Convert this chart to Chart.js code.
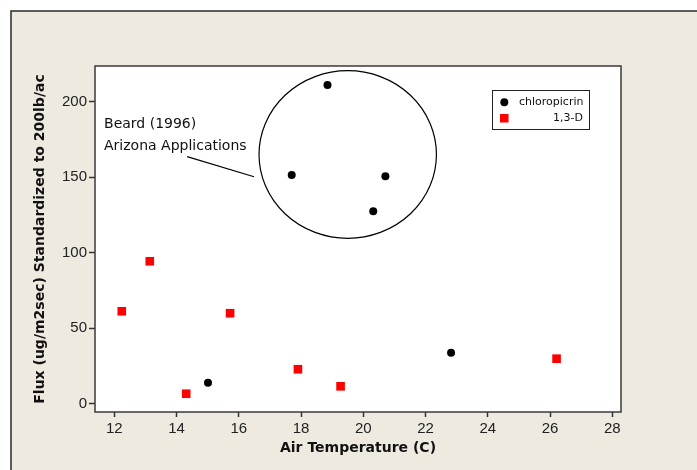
<!DOCTYPE html>
<html>
<head>
<meta charset="utf-8">
<script src="https://cdn.jsdelivr.net/npm/chart.js@4/dist/chart.umd.min.js"></script>
<style>
  html, body { margin: 0; padding: 0; background: #fff; }
</style>
</head>
<body>
<canvas id="chart" width="697" height="470"></canvas>
<script>
// Chloropicrin flux vs air temperature
const chloroTemp = [15.01, 18.85, 17.70, 20.71, 20.32, 22.82];
const chloroFlux = [13.9, 211.0, 151.5, 150.6, 127.4, 33.8];

// 1,3-D flux vs air temperature
const dTemp = [12.24, 13.14, 14.31, 15.72, 17.90, 19.27, 26.21];
const dFlux = [61.2, 94.3, 6.6, 59.9, 22.8, 11.5, 29.8];

const seriesNames = ["chloropicrin", "1,3-D"];
const xTicks = [12, 14, 16, 18, 20, 22, 24, 26, 28];
const yTicks = [0, 50, 100, 150, 200];

// Beard (1996) circle note, in data units
const noteLines = ["Beard (1996)", "Arizona Applications"];

const toPoints = (xs, ys) => xs.map((x, i) => ({ x: x, y: ys[i] }));

const frameColor = "#2a2a2a";
const paperColor = "#eeeae0";

// background: white margin, beige panel with frame, white plot area
const backgroundPlugin = {
    id: "background",
    beforeDraw(chart) {
        const ctx = chart.ctx;
        const area = chart.chartArea;
        ctx.save();
        ctx.fillStyle = "#ffffff";
        ctx.fillRect(0, 0, chart.width, chart.height);
        ctx.fillStyle = paperColor;
        ctx.fillRect(11, 11, chart.width - 11, chart.height - 11);
        ctx.strokeStyle = frameColor;
        ctx.lineWidth = 1.5;
        ctx.beginPath();
        ctx.moveTo(11, chart.height);
        ctx.lineTo(11, 11);
        ctx.lineTo(chart.width, 11);
        ctx.stroke();
        ctx.fillStyle = "#ffffff";
        ctx.fillRect(area.left, area.top, area.right - area.left, area.bottom - area.top);
        ctx.restore();
    },
    afterDraw(chart) {
        const ctx = chart.ctx;
        const area = chart.chartArea;
        ctx.save();
        ctx.strokeStyle = "#3a3a3a";
        ctx.lineWidth = 1.5;
        ctx.strokeRect(area.left, area.top, area.right - area.left, area.bottom - area.top);
        ctx.restore();
    }
};

// circle around the Arizona points plus the note and its leader line
const notePlugin = {
    id: "note",
    afterDatasetsDraw(chart) {
        const ctx = chart.ctx;
        const xs = chart.scales.x, ys = chart.scales.y;
        const cx = xs.getPixelForValue(19.50), cy = ys.getPixelForValue(165);
        const rx = xs.getPixelForValue(19.50 + 2.85) - cx;
        const ry = cy - ys.getPixelForValue(165 + 55.5);

        ctx.save();
        ctx.strokeStyle = "#000";
        ctx.lineWidth = 1.2;
        ctx.beginPath();
        ctx.ellipse(cx, cy, rx, ry, 0, 0, Math.PI * 2);
        ctx.stroke();

        ctx.beginPath();
        ctx.moveTo(xs.getPixelForValue(14.34), ys.getPixelForValue(163.6));
        ctx.lineTo(xs.getPixelForValue(16.49), ys.getPixelForValue(150.3));
        ctx.stroke();

        ctx.fillStyle = "#111";
        ctx.font = "14px 'DejaVu Sans'";
        ctx.textBaseline = "alphabetic";
        ctx.textAlign = "left";
        const tx = xs.getPixelForValue(11.67);
        ctx.fillText(noteLines[0], tx, ys.getPixelForValue(182.6));
        ctx.fillText(noteLines[1], tx, ys.getPixelForValue(168.0));
        ctx.restore();
    }
};

// boxed legend in the top right of the plot
const legendPlugin = {
    id: "boxLegend",
    afterDatasetsDraw(chart) {
        const ctx = chart.ctx;
        const area = chart.chartArea;
        const left = area.right - 129, top = area.top + 24;
        const ds = chart.data.datasets;

        ctx.save();
        ctx.fillStyle = "#fff";
        ctx.fillRect(left, top, 97, 39);
        ctx.strokeStyle = "#222";
        ctx.lineWidth = 1;
        ctx.strokeRect(left + 0.5, top + 0.5, 97, 39);

        // circle marker
        ctx.fillStyle = ds[0].backgroundColor;
        ctx.beginPath();
        ctx.arc(left + 12.3, top + 12.3, 4, 0, Math.PI * 2);
        ctx.fill();
        // square marker
        ctx.fillStyle = ds[1].backgroundColor;
        ctx.fillRect(left + 8, top + 24, 8.5, 8.5);

        ctx.fillStyle = "#111";
        ctx.font = "11px 'DejaVu Sans'";
        ctx.textBaseline = "middle";
        ctx.textAlign = "left";
        ctx.fillText(ds[0].label, left + 27, top + 12.5);
        ctx.textAlign = "right";
        ctx.fillText(ds[1].label, left + 91, top + 28.5);
        ctx.restore();
    }
};

const tickFont = { family: "'Liberation Sans', Arial, sans-serif", size: 15 };
const titleFont = { family: "'DejaVu Sans', Verdana, sans-serif", size: 14, weight: "bold" };

new Chart(document.getElementById("chart"), {
    type: "scatter",
    plugins: [backgroundPlugin, notePlugin, legendPlugin],
    data: {
        datasets: [
            {
                label: seriesNames[0],
                data: toPoints(chloroTemp, chloroFlux),
                pointStyle: "circle",
                pointRadius: 4,
                pointHoverRadius: 4,
                backgroundColor: "#000000",
                borderWidth: 0
            },
            {
                label: seriesNames[1],
                data: toPoints(dTemp, dFlux),
                pointStyle: "rect",
                pointRadius: 6.1,
                pointHoverRadius: 6.1,
                backgroundColor: "#ff0000",
                borderWidth: 0
            }
        ]
    },
    options: {
        responsive: false,
        animation: false,
        events: [],
        layout: { padding: { left: 0, top: 66, right: 76, bottom: 0 } },
        plugins: {
            legend: { display: false },
            tooltip: { enabled: false }
        },
        scales: {
            x: {
                type: "linear",
                position: "bottom",
                min: 11.38,
                max: 28.28,
                afterFit: (scale) => { scale.height = 58; },
                afterBuildTicks: (scale) => { scale.ticks = xTicks.map(v => ({ value: v })); },
                grid: { drawOnChartArea: false, drawTicks: true, tickLength: 5, tickColor: "#333", tickWidth: 1.5 },
                border: { display: false },
                ticks: { font: tickFont, color: "#222", padding: 3, maxRotation: 0 },
                title: {
                    display: true,
                    text: "Air Temperature (C)",
                    font: titleFont,
                    color: "#111",
                    padding: { top: 0, bottom: 13 }
                }
            },
            y: {
                type: "linear",
                min: -5.5,
                max: 223.6,
                afterFit: (scale) => { scale.width = 95; },
                afterBuildTicks: (scale) => { scale.ticks = yTicks.map(v => ({ value: v })); },
                grid: { drawOnChartArea: false, drawTicks: true, tickLength: 6, tickColor: "#333", tickWidth: 1.5 },
                border: { display: false },
                ticks: { font: tickFont, color: "#222", padding: 2 },
                title: {
                    display: true,
                    text: "Flux (ug/m2sec) Standardized to 200lb/ac",
                    font: titleFont,
                    color: "#111",
                    padding: { top: 32, bottom: 0 }
                }
            }
        }
    }
});
</script>
</body>
</html>
